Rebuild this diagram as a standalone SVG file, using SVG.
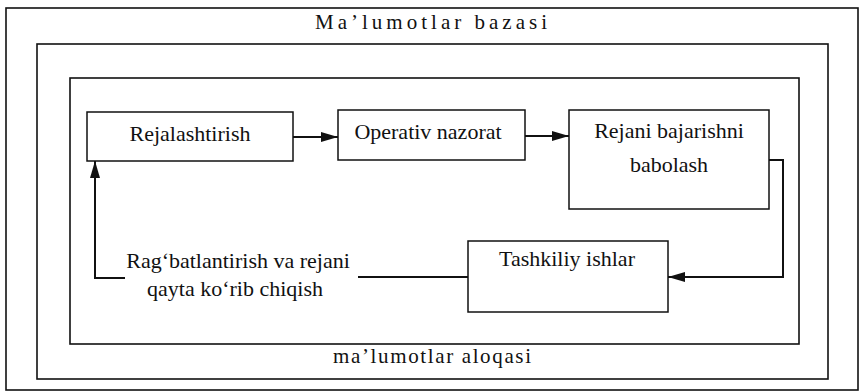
<svg xmlns="http://www.w3.org/2000/svg" width="864" height="391" viewBox="0 0 864 391">
<style>
.frame{fill:none;stroke:#111;stroke-width:1.6}
.box{fill:#fff;stroke:#111;stroke-width:1.5}
.lbl{font-family:'Liberation Serif','Tinos','Times New Roman','DejaVu Serif',serif;font-size:22px;fill:#111;text-anchor:middle}
.title{font-family:'Liberation Serif','Tinos','Times New Roman','DejaVu Serif',serif;font-size:21px;fill:#111;text-anchor:middle}
.conn{fill:none;stroke:#111;stroke-width:2}
</style>
<defs>
<marker id="arr" markerUnits="userSpaceOnUse" markerWidth="18" markerHeight="12" refX="17" refY="5" orient="auto">
<path d="M0,0 L17,5 L0,10 z" fill="#111"/>
</marker>
</defs>
<rect width="864" height="391" fill="#fff"/>
<g id="frames">
<rect class="frame" x="6" y="8" width="852" height="382"/>
<rect class="frame" x="37" y="44" width="791" height="335"/>
<rect class="frame" x="70" y="78" width="729" height="266"/>
<text class="title" x="431" y="29" textLength="232" lengthAdjust="spacing">Ma’lumotlar bazasi</text>
<text class="title" x="432" y="363" textLength="198" lengthAdjust="spacing">ma’lumotlar aloqasi</text>
</g>
<g id="connectors">
<path class="conn" d="M293,137 H338" marker-end="url(#arr)"/>
<path class="conn" d="M525,136 H569" marker-end="url(#arr)"/>
<path class="conn" d="M769,160 H783 V277 H668" marker-end="url(#arr)"/>
<path class="conn" d="M468,277 H358"/>
<path class="conn" d="M125,278 H95 V161" marker-end="url(#arr)"/>
</g>
<g id="node-rejalashtirish">
<rect class="box" x="87" y="112" width="206" height="49"/>
<text class="lbl" x="190" y="141">Rejalashtirish</text>
</g>
<g id="node-operativ">
<rect class="box" x="338" y="110" width="187" height="50"/>
<text class="lbl" x="428" y="139">Operativ nazorat</text>
</g>
<g id="node-rejani">
<rect class="box" x="569" y="110" width="200" height="99"/>
<text class="lbl" x="669" y="138">Rejani bajarishni</text>
<text class="lbl" x="669" y="172">babolash</text>
</g>
<g id="node-tashkiliy">
<rect class="box" x="468" y="241" width="200" height="71"/>
<text class="lbl" x="567" y="266">Tashkiliy ishlar</text>
</g>
<g id="node-ragbat">
<text class="lbl" x="238" y="268">Rag‘batlantirish va rejani</text>
<text class="lbl" x="235" y="296">qayta ko‘rib chiqish</text>
</g>
</svg>
